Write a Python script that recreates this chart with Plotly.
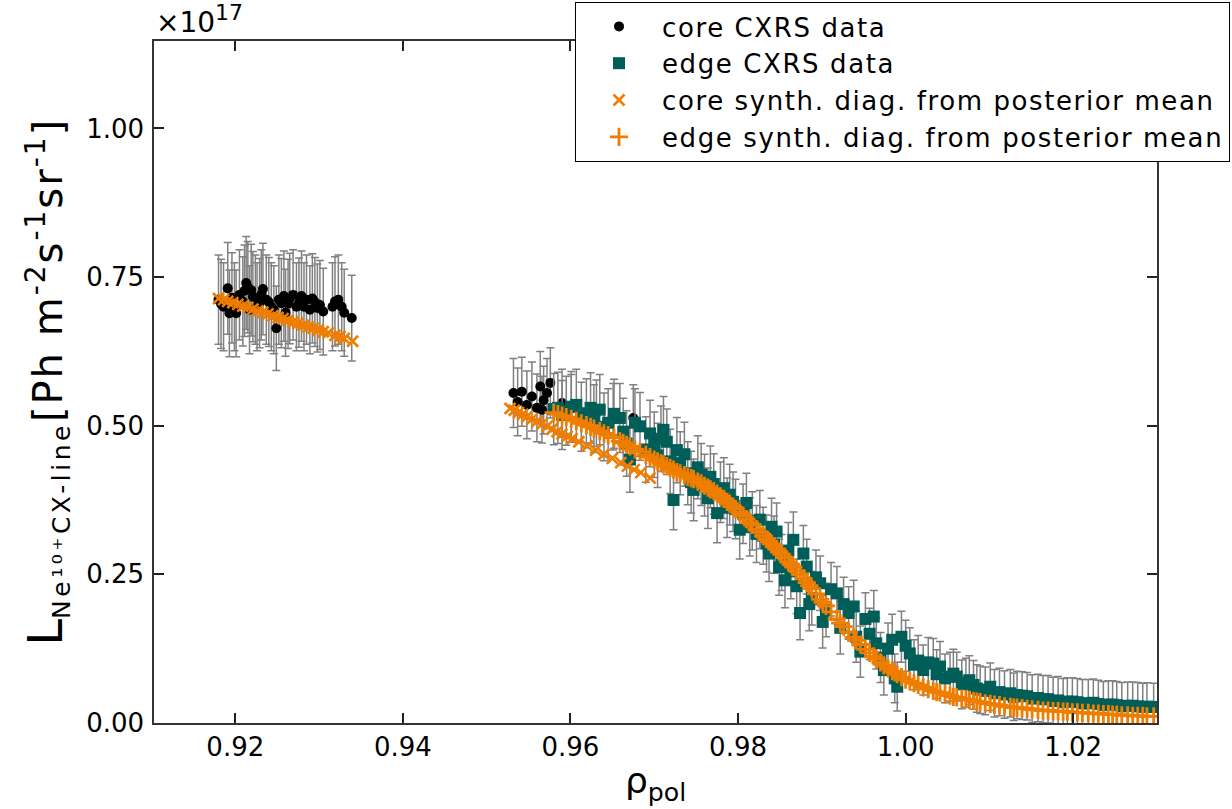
import plotly.graph_objects as go

# ---------------- data (values in units of 1e17) ----------------
core_rho = [0.9180, 0.9183, 0.9186, 0.9191, 0.9193, 0.9196, 0.9199, 0.9201, 0.9205, 0.9209,
            0.9211, 0.9213, 0.9215, 0.9217, 0.9219, 0.9221, 0.9224, 0.9226, 0.9229, 0.9231,
            0.9233, 0.9237, 0.9240, 0.9243, 0.9246, 0.9249, 0.9252, 0.9255, 0.9258, 0.9260,
            0.9263, 0.9265, 0.9269, 0.9273, 0.9276, 0.9279, 0.9282, 0.9285, 0.9289, 0.9292,
            0.9295, 0.9298, 0.9301, 0.9305, 0.9316, 0.9319, 0.9323, 0.9327, 0.9330, 0.9339,
            0.9532, 0.9537, 0.9542, 0.9548, 0.9554, 0.9560, 0.9564, 0.9566, 0.9568, 0.9572,
            0.9576, 0.9590, 0.9601, 0.9631, 0.9651, 0.9675]
core_val = [0.712, 0.705, 0.700, 0.731, 0.689, 0.715, 0.700, 0.689, 0.720, 0.709,
            0.727, 0.740, 0.733, 0.695, 0.728, 0.717, 0.712, 0.700, 0.706, 0.720,
            0.730, 0.712, 0.708, 0.700, 0.695, 0.664, 0.712, 0.706, 0.718, 0.690,
            0.705, 0.714, 0.720, 0.700, 0.707, 0.718, 0.700, 0.712, 0.695, 0.714,
            0.708, 0.698, 0.703, 0.692, 0.700, 0.709, 0.712, 0.700, 0.690, 0.681,
            0.555, 0.540, 0.557, 0.535, 0.549, 0.530, 0.566, 0.527, 0.543, 0.555,
            0.572, 0.538, 0.529, 0.521, 0.515, 0.513]
core_err = [0.075, 0.075, 0.074, 0.077, 0.073, 0.076, 0.074, 0.073, 0.076, 0.075,
            0.077, 0.078, 0.077, 0.074, 0.077, 0.076, 0.075, 0.074, 0.075, 0.076,
            0.077, 0.075, 0.075, 0.074, 0.074, 0.071, 0.075, 0.075, 0.076, 0.073,
            0.075, 0.076, 0.076, 0.074, 0.075, 0.076, 0.074, 0.075, 0.074, 0.075,
            0.075, 0.074, 0.075, 0.073, 0.074, 0.075, 0.075, 0.074, 0.073, 0.072,
            0.058, 0.057, 0.058, 0.057, 0.058, 0.057, 0.059, 0.056, 0.057, 0.058,
            0.059, 0.057, 0.057, 0.056, 0.056, 0.056]

edge_rho = [0.9580, 0.9585, 0.9590, 0.9595, 0.9601, 0.9607, 0.9613, 0.9619, 0.9624, 0.9628,
            0.9635, 0.9640, 0.9645, 0.9652, 0.9659, 0.9663, 0.9667, 0.9671, 0.9677, 0.9683,
            0.9690, 0.9695, 0.9700, 0.9704, 0.9708, 0.9711, 0.9715, 0.9719, 0.9723, 0.9727,
            0.9731, 0.9736, 0.9740, 0.9744, 0.9747, 0.9752, 0.9756, 0.9760, 0.9764, 0.9767,
            0.9771, 0.9775, 0.9779, 0.9783, 0.9787, 0.9790, 0.9794, 0.9797, 0.9802, 0.9806,
            0.9810, 0.9814, 0.9817, 0.9822, 0.9826, 0.9830, 0.9834, 0.9837, 0.9840, 0.9843,
            0.9846, 0.9849, 0.9852, 0.9856, 0.9860, 0.9863, 0.9866, 0.9870, 0.9874, 0.9878,
            0.9882, 0.9885, 0.9888, 0.9893, 0.9898, 0.9901, 0.9905, 0.9911, 0.9918, 0.9922,
            0.9926, 0.9932, 0.9938, 0.9941, 0.9946, 0.9952, 0.9957, 0.9962, 0.9965, 0.9970,
            0.9974, 0.9979, 0.9984, 0.9987, 0.9990, 0.9995, 1.0000, 1.0005, 1.0010, 1.0015,
            1.0021, 1.0027, 1.0033, 1.0037, 1.0041, 1.0047, 1.0053, 1.0057, 1.0061, 1.0067,
            1.0072, 1.0076, 1.0081, 1.0085, 1.0089, 1.0095, 1.0101, 1.0106, 1.0112, 1.0118,
            1.0125, 1.0129, 1.0133, 1.0139, 1.0145, 1.0151, 1.0158, 1.0164, 1.0170, 1.0176,
            1.0182, 1.0188, 1.0193, 1.0199, 1.0205, 1.0211, 1.0218, 1.0224, 1.0230, 1.0236,
            1.0242, 1.0247, 1.0252, 1.0258, 1.0265, 1.0271, 1.0277, 1.0283, 1.0288, 1.0296]
edge_val = [0.528, 0.530, 0.518, 0.525, 0.532, 0.535, 0.515, 0.521, 0.530, 0.512,
            0.527, 0.498, 0.505, 0.520, 0.513, 0.490, 0.470, 0.443, 0.505, 0.499,
            0.460, 0.487, 0.468, 0.450, 0.478, 0.493, 0.473, 0.440, 0.375, 0.459,
            0.437, 0.452, 0.420, 0.405, 0.392, 0.430, 0.418, 0.400, 0.378, 0.414,
            0.402, 0.353, 0.388, 0.395, 0.362, 0.384, 0.372, 0.360, 0.325, 0.352,
            0.370, 0.330, 0.340, 0.318, 0.342, 0.315, 0.302, 0.285, 0.330, 0.300,
            0.322, 0.262, 0.270, 0.240, 0.290, 0.255, 0.308, 0.230, 0.185, 0.285,
            0.263, 0.200, 0.210, 0.245, 0.235, 0.170, 0.190, 0.225, 0.218, 0.160,
            0.200, 0.185, 0.196, 0.145, 0.120, 0.175, 0.150, 0.179, 0.134, 0.110,
            0.089, 0.125, 0.140, 0.075, 0.061, 0.145, 0.130, 0.117, 0.098, 0.105,
            0.089, 0.102, 0.100, 0.082, 0.095, 0.075, 0.078, 0.083, 0.078, 0.065,
            0.068, 0.072, 0.064, 0.058, 0.056, 0.054, 0.061, 0.050, 0.052, 0.048,
            0.050, 0.044, 0.047, 0.046, 0.045, 0.041, 0.042, 0.040, 0.040, 0.037,
            0.038, 0.035, 0.036, 0.036, 0.035, 0.033, 0.033, 0.034, 0.032, 0.030,
            0.031, 0.031, 0.030, 0.028, 0.029, 0.029, 0.028, 0.027, 0.0275, 0.027]
edge_err = [0.060, 0.060, 0.058, 0.058, 0.059, 0.060, 0.058, 0.058, 0.059, 0.057,
            0.059, 0.057, 0.057, 0.058, 0.058, 0.056, 0.055, 0.055, 0.057, 0.057,
            0.055, 0.056, 0.055, 0.054, 0.055, 0.056, 0.055, 0.054, 0.050, 0.055,
            0.053, 0.054, 0.053, 0.052, 0.052, 0.053, 0.052, 0.052, 0.051, 0.052,
            0.051, 0.050, 0.051, 0.051, 0.050, 0.051, 0.050, 0.050, 0.049, 0.050,
            0.050, 0.049, 0.049, 0.048, 0.049, 0.048, 0.048, 0.047, 0.048, 0.048,
            0.048, 0.047, 0.047, 0.046, 0.047, 0.046, 0.047, 0.046, 0.045, 0.047,
            0.046, 0.045, 0.045, 0.046, 0.046, 0.044, 0.045, 0.045, 0.045, 0.044,
            0.045, 0.044, 0.044, 0.043, 0.043, 0.044, 0.043, 0.044, 0.043, 0.042,
            0.042, 0.043, 0.043, 0.041, 0.041, 0.043, 0.043, 0.043, 0.042, 0.042,
            0.042, 0.042, 0.042, 0.041, 0.042, 0.041, 0.041, 0.041, 0.041, 0.041,
            0.041, 0.041, 0.041, 0.040, 0.040, 0.040, 0.040, 0.040, 0.040, 0.040,
            0.040, 0.040, 0.040, 0.040, 0.040, 0.040, 0.040, 0.040, 0.040, 0.040,
            0.040, 0.040, 0.040, 0.040, 0.040, 0.040, 0.040, 0.040, 0.040, 0.040,
            0.040, 0.040, 0.040, 0.040, 0.040, 0.040, 0.040, 0.040, 0.040, 0.040]
edge_synth_val = [0.522, 0.5195, 0.517, 0.5145, 0.5115, 0.508, 0.504, 0.501, 0.498, 0.495,
                  0.491, 0.487, 0.484, 0.480, 0.474, 0.471, 0.468, 0.465, 0.460, 0.456,
                  0.451, 0.447, 0.443, 0.440, 0.437, 0.435, 0.432, 0.429, 0.426, 0.422,
                  0.420, 0.417, 0.414, 0.412, 0.410, 0.406, 0.403, 0.399, 0.396, 0.393,
                  0.390, 0.386, 0.381, 0.377, 0.372, 0.369, 0.364, 0.360, 0.354, 0.349,
                  0.343, 0.337, 0.333, 0.326, 0.321, 0.315, 0.309, 0.305, 0.301, 0.297,
                  0.293, 0.288, 0.284, 0.278, 0.271, 0.267, 0.262, 0.256, 0.250, 0.243,
                  0.236, 0.231, 0.226, 0.217, 0.208, 0.203, 0.197, 0.187, 0.175, 0.168,
                  0.162, 0.153, 0.144, 0.139, 0.132, 0.124, 0.118, 0.112, 0.108, 0.102,
                  0.097, 0.092, 0.087, 0.085, 0.082, 0.077, 0.073, 0.070, 0.067, 0.064,
                  0.060, 0.057, 0.054, 0.052, 0.051, 0.048, 0.046, 0.044, 0.043, 0.041,
                  0.040, 0.039, 0.037, 0.036, 0.035, 0.033, 0.032, 0.031, 0.030, 0.028,
                  0.027, 0.026, 0.026, 0.025, 0.024, 0.023, 0.022, 0.021, 0.021, 0.020,
                  0.020, 0.019, 0.019, 0.018, 0.018, 0.017, 0.017, 0.016, 0.016, 0.015,
                  0.015, 0.014, 0.014, 0.013, 0.013, 0.012, 0.012, 0.012, 0.011, 0.011]

core_synth_rho = [0.9180, 0.9186, 0.9191, 0.9197, 0.9203, 0.9209, 0.9215, 0.9221, 0.9227, 0.9233,
                  0.9239, 0.9245, 0.9251, 0.9257, 0.9263, 0.9269, 0.9275, 0.9281, 0.9287, 0.9293,
                  0.9299, 0.9305, 0.9311, 0.9319, 0.9325, 0.9330, 0.9340,
                  0.9528, 0.9533, 0.9538, 0.9543, 0.9548, 0.9554, 0.9560, 0.9566, 0.9572, 0.9578,
                  0.9584, 0.9590, 0.9596, 0.9602, 0.9610, 0.9620, 0.9630, 0.9640, 0.9650, 0.9660,
                  0.9668, 0.9676, 0.9684, 0.9695]
core_synth_val = [0.714, 0.712, 0.709, 0.707, 0.704, 0.701, 0.699, 0.696, 0.693, 0.691,
                  0.688, 0.685, 0.682, 0.680, 0.677, 0.674, 0.672, 0.669, 0.666, 0.664,
                  0.661, 0.658, 0.656, 0.652, 0.650, 0.647, 0.642,
                  0.529, 0.526, 0.522, 0.519, 0.515, 0.511, 0.507, 0.503, 0.499, 0.494,
                  0.490, 0.486, 0.482, 0.478, 0.473, 0.466, 0.459, 0.452, 0.445, 0.438,
                  0.432, 0.426, 0.421, 0.412]

x_ticks = [0.92, 0.94, 0.96, 0.98, 1.00, 1.02]
x_tick_labels = ["0.92", "0.94", "0.96", "0.98", "1.00", "1.02"]
y_ticks = [0.00, 0.25, 0.50, 0.75, 1.00]
y_tick_labels = ["0.00", "0.25", "0.50", "0.75", "1.00"]
series_names = ["core CXRS data", "edge CXRS data",
                "core synth. diag. from posterior mean",
                "edge synth. diag. from posterior mean"]

ORANGE = "#EE7D00"
TEAL = "#005E58"
GREY = "#808080"
FONT = "DejaVu Sans"


def legend_name(s):
    return "<span style='letter-spacing:1.6px'>" + s + "</span>"


fig = go.Figure()

fig.add_trace(go.Scatter(
    x=core_rho, y=core_val, mode="markers", name=legend_name(series_names[0]),
    marker=dict(symbol="circle", size=10, color="black"),
    error_y=dict(type="data", array=core_err, color=GREY, thickness=1.5, width=4),
))
fig.add_trace(go.Scatter(
    x=edge_rho, y=edge_val, mode="markers", name=legend_name(series_names[1]),
    marker=dict(symbol="square", size=12, color=TEAL),
    error_y=dict(type="data", array=edge_err, color=GREY, thickness=1.5, width=4),
))
fig.add_trace(go.Scatter(
    x=core_synth_rho, y=core_synth_val, mode="markers",
    name=legend_name(series_names[2]),
    marker=dict(symbol="x-thin", size=11, color=ORANGE, line=dict(width=2.6, color=ORANGE)),
))
fig.add_trace(go.Scatter(
    x=edge_rho, y=edge_synth_val, mode="markers",
    name=legend_name(series_names[3]),
    marker=dict(symbol="cross-thin", size=13, color=ORANGE, line=dict(width=2.8, color=ORANGE)),
))

axis_common = dict(
    showline=True, linecolor="#333333", linewidth=1.5, mirror="ticks",
    ticks="inside", ticklen=10, tickwidth=1.5, tickcolor="#222222",
    showgrid=False, zeroline=False,
    tickfont=dict(family=FONT, size=26, color="black"),
)

ytitle = ("<span style='font-size:48px'>L</span>"
          "<sub><span style='font-size:25px;letter-spacing:3.5px'>Ne¹⁰⁺CX-line</span></sub>"
          "<span style='letter-spacing:2px'>[Ph m<sup>-2</sup>s<sup>-1</sup>sr<sup>-1</sup>]</span>")

fig.update_layout(
    width=1232, height=809,
    margin=dict(l=154, r=75, t=41, b=86, autoexpand=False),
    paper_bgcolor="white", plot_bgcolor="white",
    font=dict(family=FONT, color="black"),
    xaxis=dict(range=[0.9103, 1.0300], tickvals=x_ticks, ticktext=x_tick_labels, **axis_common),
    yaxis=dict(range=[0.0, 1.147], tickvals=y_ticks, ticktext=y_tick_labels,
               ticklabelstandoff=3, **axis_common),
    showlegend=True,
    legend=dict(
        x=1.0728, y=1.0572, xanchor="right", yanchor="top",
        bgcolor="white", bordercolor="black", borderwidth=1,
        font=dict(family=FONT, size=26, color="black"),
        itemwidth=76, tracegroupgap=0,
    ),
    annotations=[
        dict(text="×10<sup><span style='font-size:22px'>17</span></sup>",
             xref="paper", yref="paper", x=0.0, y=1.0,
             xanchor="left", yanchor="bottom", showarrow=False,
             font=dict(family=FONT, size=28, color="black")),
        dict(text=ytitle,
             xref="paper", yref="paper", x=-0.108, y=0.5,
             xanchor="center", yanchor="middle", textangle=-90, showarrow=False,
             font=dict(family=FONT, size=40, color="black")),
        dict(text="ρ<sub>pol</sub>", xref="paper", yref="paper", x=0.5, y=-0.088,
             xanchor="center", yanchor="middle", showarrow=False,
             font=dict(family=FONT, size=36, color="black")),
    ],
)

fig.write_html("out.html")
